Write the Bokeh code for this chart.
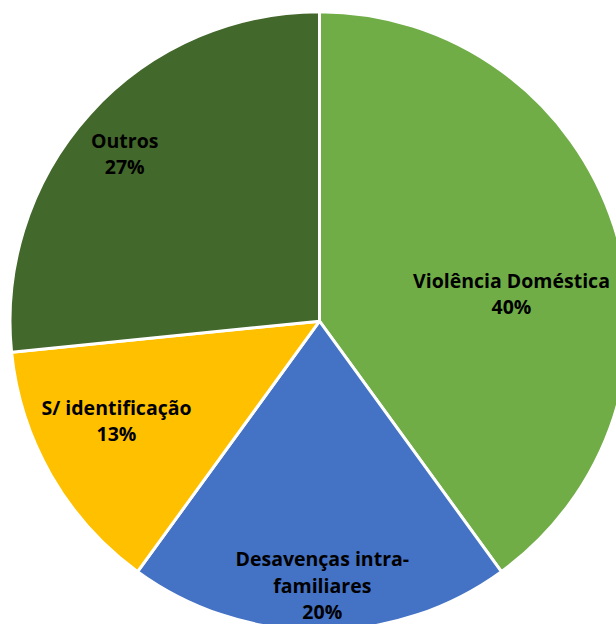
import math
from bokeh.plotting import figure
from bokeh.models import ColumnDataSource
from bokeh.core.properties import value
from bokeh.embed import file_html
from bokeh.resources import INLINE

# ---- data ----
categories = ["Violência Doméstica", "Desavenças intra-familiares", "S/ identificação", "Outros"]
display_names = ["Violência Doméstica", "Desavenças intra-\nfamiliares", "S/ identificação", "Outros"]
values = [40.0, 20.0, 13.4, 26.6]
colors = ["#70AD47", "#4472C4", "#FFC000", "#43682B"]

# ---- layout / style ----
W, H = 616, 624
cx, cy = 319.0, 303.3
R = 309.5
# label placement: radial distance and angular adjustment (deg) relative to slice mid-angle
label_r = [194, 264, 226, 257]
label_dang = [-9.7, 0.6, -3.8, 1.4]

total = sum(values)
starts, ends, lx, ly, texts = [], [], [], [], []
cum = 0.0
for i, v in enumerate(values):
    a0 = math.pi / 2 - 2 * math.pi * cum / total
    a1 = math.pi / 2 - 2 * math.pi * (cum + v) / total
    starts.append(a0)
    ends.append(a1)
    mid = (a0 + a1) / 2 + math.radians(label_dang[i])
    lx.append(cx + label_r[i] * math.cos(mid))
    ly.append(cy + label_r[i] * math.sin(mid))
    texts.append(f"{display_names[i]}\n{round(v / total * 100):d}%")
    cum += v

src = ColumnDataSource(dict(cat=categories, start=starts, end=ends, color=colors,
                            lx=lx, ly=ly, txt=texts))

p = figure(width=W, height=H, x_range=(0, W), y_range=(0, H),
           output_backend="svg", toolbar_location=None, min_border=0)
p.axis.visible = False
p.grid.visible = False
p.outline_line_color = None
p.background_fill_color = "white"
p.border_fill_color = "white"

p.wedge(x=cx, y=cy, radius=R, start_angle="start", end_angle="end", direction="clock",
        fill_color="color", line_color="white", line_width=3, source=src)

p.text(x="lx", y="ly", text="txt", source=src, text_align="center", text_baseline="middle",
       text_font=value("Open Sans"), text_font_style="bold", text_font_size="19.5px",
       text_color="black", text_line_height=0.97)

open("out.html", "w").write(file_html(p, INLINE))
